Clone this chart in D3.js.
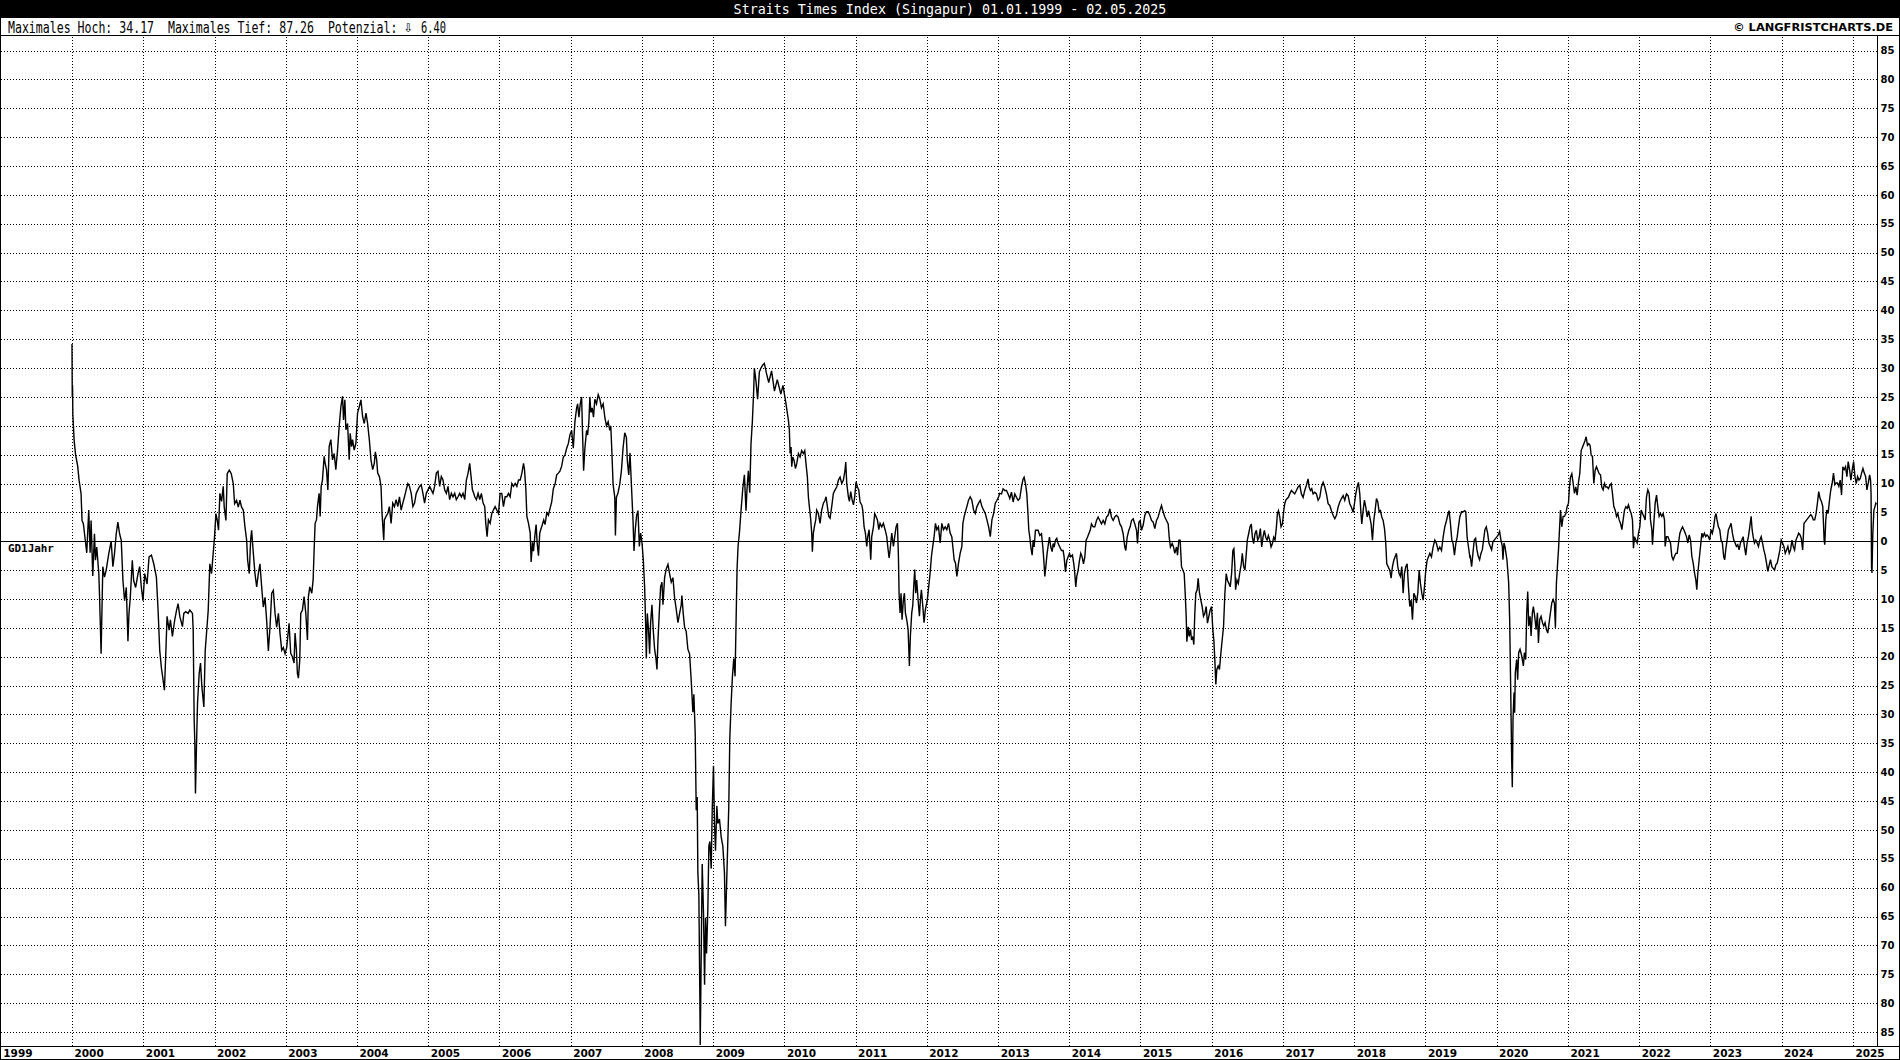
<!DOCTYPE html>
<html><head><meta charset="utf-8">
<script src="https://cdn.jsdelivr.net/npm/d3@7"></script>
<style>html,body{margin:0;padding:0;background:#fff;overflow:hidden}</style>
</head><body><svg id="c" width="1900" height="1060"></svg>
<script>
const titleText = "Straits Times Index (Singapur) 01.01.1999 - 02.05.2025";
const statsLead = "Maximales Hoch: 34.17  Maximales Tief: 87.26  Potenzial:";
const statsArrow = "\u21E9";
const statsValue = "6.40";
const copyText = "\u00A9 LANGFRISTCHARTS.DE";
const refLabel = "GD1Jahr";
const yTicks = d3.range(-85, 90, 5);
const yearTicks = d3.range(1999, 2026);

// [decimal year, % distance to 1-year moving average]
const seg2000_2002 = [[2000.0,34.17],[2000.004,25],[2000.008,27],[2000.012,22],[2000.03,17.5],[2000.05,15],[2000.08,13],[2000.10,10.5],[2000.127,8.3],[2000.141,3.6],[2000.16,3],[2000.188,0],[2000.207,-2],[2000.235,5.4],[2000.254,-2],[2000.268,3.6],[2000.291,-6],[2000.315,1.3],[2000.329,-3.3],[2000.347,-1],[2000.376,-5.6],[2000.385,-9],[2000.408,-19.5],[2000.432,-4.4],[2000.455,-6.2],[2000.479,-5],[2000.516,-2.1],[2000.549,0],[2000.573,-4.4],[2000.596,-2.1],[2000.62,1.3],[2000.643,3.3],[2000.667,1.3],[2000.69,0.2],[2000.714,-6.8],[2000.737,-10.3],[2000.761,-8],[2000.784,-17.3],[2000.798,-12.6],[2000.817,-9.7],[2000.845,-3.3],[2000.864,-6.8],[2000.892,-8],[2000.925,-5.6],[2000.948,-4.4],[2000.972,-8],[2000.995,-10.3],[2001.019,-5.6],[2001.052,-7.4],[2001.08,-2.7],[2001.113,-2.4],[2001.146,-3.9],[2001.183,-6.2],[2001.207,-12],[2001.23,-18.9],[2001.254,-22],[2001.277,-24],[2001.296,-25.8],[2001.315,-19.5],[2001.333,-13],[2001.362,-15.4],[2001.38,-13.6],[2001.408,-16.5],[2001.441,-13.6],[2001.465,-12],[2001.488,-10.8],[2001.512,-13],[2001.549,-14.8],[2001.568,-12.5],[2001.596,-12.2],[2001.629,-12.5],[2001.653,-11.9],[2001.69,-12.5],[2001.70,-15.4],[2001.714,-31],[2001.723,-35],[2001.732,-43.7],[2001.746,-35.6],[2001.761,-28],[2001.784,-22.9],[2001.803,-21.1],[2001.822,-25.2],[2001.85,-28.7],[2001.869,-18.9],[2001.887,-16],[2001.911,-12],[2001.934,-3.9],[2001.958,-5.6],[2001.981,-2.1],[2002.0,0.75],[2002.019,4.8],[2002.038,3.6],[2002.056,1.9],[2002.075,8.3],[2002.099,6.9],[2002.122,9.5],[2002.136,5.9],[2002.16,3.6],[2002.178,11.7],[2002.207,12.3],[2002.235,11.7],[2002.263,10],[2002.282,6.5],[2002.31,7.1],[2002.333,5.9],[2002.357,7.1],[2002.38,5.9],[2002.404,5.4],[2002.427,2.5],[2002.451,0.2],[2002.465,-3.3],[2002.488,-5.6],[2002.507,0.2],[2002.521,1.9],[2002.545,-2.1],[2002.568,-5.6],[2002.592,-7.9],[2002.615,-5.6],[2002.638,-3.9],[2002.662,-7.9],[2002.685,-11.4],[2002.709,-9.7],[2002.732,-13.7],[2002.756,-19],[2002.779,-14.9],[2002.803,-9],[2002.826,-8.5],[2002.85,-12.5],[2002.873,-14.9],[2002.897,-12.5],[2002.92,-16],[2002.944,-18.9],[2002.967,-18.4],[2002.991,-19.5],[2003.014,-18.4]];

const seg2003_2006 = [[2003.047,-14.2],[2003.07,-19.4],[2003.094,-20],[2003.117,-21.1],[2003.131,-15.9],[2003.15,-18.8],[2003.164,-22.9],[2003.178,-23.7],[2003.197,-20.6],[2003.211,-12.5],[2003.235,-11.9],[2003.258,-9.6],[2003.282,-12.5],[2003.305,-17.1],[2003.319,-9.6],[2003.338,-7.9],[2003.366,-9],[2003.385,-6.7],[2003.399,-1.5],[2003.413,3.1],[2003.432,3.7],[2003.446,6],[2003.469,8.3],[2003.484,4.3],[2003.498,9.5],[2003.516,10.6],[2003.54,14.7],[2003.554,13.5],[2003.573,12.4],[2003.592,8.9],[2003.61,16.4],[2003.634,17.6],[2003.657,14.1],[2003.681,15.2],[2003.704,12.4],[2003.728,15.8],[2003.751,19.9],[2003.775,23.3],[2003.798,25.1],[2003.812,21],[2003.831,24.5],[2003.845,19.3],[2003.869,20.4],[2003.892,14.1],[2003.906,18.7],[2003.925,16.4],[2003.939,17.6],[2003.962,15.8],[2003.986,17],[2004.009,22.2],[2004.033,23.3],[2004.056,24.5],[2004.08,21.6],[2004.103,20.4],[2004.127,22.2],[2004.15,20.4],[2004.174,17.6],[2004.197,14.1],[2004.221,12.4],[2004.244,13.5],[2004.258,15.5],[2004.277,14.1],[2004.291,11.8],[2004.315,11.2],[2004.338,9.5],[2004.352,4.8],[2004.376,0.2],[2004.385,3.7],[2004.408,4.3],[2004.432,4.8],[2004.455,6],[2004.479,3.1],[2004.502,6.6],[2004.526,6],[2004.549,7.2],[2004.573,6],[2004.596,7.7],[2004.62,5.4],[2004.643,6.6],[2004.667,7.7],[2004.69,8.9],[2004.714,10],[2004.737,9.5],[2004.761,8.3],[2004.784,6],[2004.808,6.6],[2004.831,8.3],[2004.854,8.9],[2004.878,9.5],[2004.901,9.8],[2004.925,8.3],[2004.948,6.6],[2004.972,8.3],[2004.995,8.9],[2005.019,9.5],[2005.042,8.9],[2005.066,8.3],[2005.089,9.5],[2005.113,11.8],[2005.136,12.1],[2005.16,9.5],[2005.183,11.2],[2005.207,10.6],[2005.23,8.9],[2005.254,8.3],[2005.277,9.5],[2005.3,7.2],[2005.324,8.3],[2005.347,7.7],[2005.371,8.3],[2005.394,7.2],[2005.418,7.7],[2005.441,8.3],[2005.465,7.7],[2005.488,8.3],[2005.512,7.2],[2005.535,10.6],[2005.559,11.8],[2005.582,13.5],[2005.596,11.8],[2005.62,8.9],[2005.638,8.3],[2005.653,7.7],[2005.676,7.2],[2005.70,8.3],[2005.723,7.2],[2005.746,8.3],[2005.77,6.6],[2005.793,6],[2005.808,3.1],[2005.826,0.8],[2005.845,3.7],[2005.869,3.1],[2005.892,4.8],[2005.915,5.4],[2005.939,6],[2005.962,5.4],[2005.986,4.8],[2006.009,8.3],[2006.033,8.3],[2006.056,6],[2006.08,7.7],[2006.103,7.7],[2006.127,8.3],[2006.15,7.7],[2006.174,10],[2006.197,9.5],[2006.221,10],[2006.244,9.5],[2006.268,10.6],[2006.291,10.6],[2006.315,11.8],[2006.338,13.5],[2006.352,12.4],[2006.371,8.9],[2006.385,4.3],[2006.408,3.1],[2006.432,1.4]];

const seg2006_2009 = [[2006.445,-3.6],[2006.464,-0.2],[2006.478,-1.7],[2006.501,1.4],[2006.515,2.9],[2006.529,-0.2],[2006.548,-2.5],[2006.566,1.4],[2006.585,2.2],[2006.603,2.9],[2006.622,3.7],[2006.641,2.9],[2006.664,4.9],[2006.687,4.5],[2006.711,5.7],[2006.734,6.8],[2006.757,9.1],[2006.781,9.9],[2006.804,11.5],[2006.827,11.8],[2006.851,12.2],[2006.874,13],[2006.897,14.6],[2006.92,14.9],[2006.944,16.1],[2006.967,16.9],[2006.99,18.4],[2007.014,19.2],[2007.037,16.1],[2007.06,20.7],[2007.084,23.1],[2007.098,23.8],[2007.116,21.5],[2007.135,23.8],[2007.154,25],[2007.168,18.4],[2007.182,12.2],[2007.20,16.1],[2007.224,19.2],[2007.238,18.4],[2007.256,20.7],[2007.27,25],[2007.284,22.3],[2007.303,23.1],[2007.321,21.5],[2007.34,24.6],[2007.363,23.8],[2007.387,25.4],[2007.41,24.6],[2007.433,23.1],[2007.457,23.8],[2007.48,21.5],[2007.503,20],[2007.527,20.7],[2007.55,19.2],[2007.564,20],[2007.582,14.6],[2007.596,9.9],[2007.62,7.6],[2007.629,1],[2007.643,7.6],[2007.666,8.4],[2007.69,9.9],[2007.713,12.2],[2007.736,16.1],[2007.76,18.8],[2007.783,18],[2007.797,13.8],[2007.816,11.5],[2007.834,15.3],[2007.853,9.9],[2007.876,3.7],[2007.89,-1.7],[2007.909,2.2],[2007.927,4.5],[2007.946,5.3],[2007.965,-0.9],[2007.983,1.4],[2008.002,-0.2],[2008.021,-3.3],[2008.039,-7.9],[2008.053,-14.1],[2008.063,-20.3],[2008.077,-12.5],[2008.095,-15.6],[2008.109,-19.5],[2008.123,-14.1],[2008.142,-11],[2008.161,-15.6],[2008.179,-18.7],[2008.198,-20.3],[2008.212,-22.2],[2008.226,-17.2],[2008.244,-12.5],[2008.263,-7.9],[2008.282,-7.1],[2008.296,-11],[2008.319,-6.3],[2008.342,-4.8],[2008.366,-4],[2008.389,-5.6],[2008.412,-7.1],[2008.436,-6.3],[2008.459,-9.8],[2008.482,-11.8],[2008.506,-14.1],[2008.529,-12.5],[2008.552,-11],[2008.561,-9.4],[2008.58,-12.5],[2008.599,-14.9],[2008.622,-15.6],[2008.645,-18.7],[2008.669,-19.5],[2008.692,-24.1],[2008.715,-29.6],[2008.729,-26.5],[2008.748,-33.4],[2008.762,-46.6],[2008.776,-44.3],[2008.785,-57.4],[2008.799,-61.3],[2008.813,-79.1],[2008.818,-87.26],[2008.832,-71.4],[2008.846,-55.9],[2008.864,-64.4],[2008.879,-76.8],[2008.893,-65.2],[2008.907,-71.4],[2008.925,-63.6],[2008.939,-52.8],[2008.953,-52],[2008.972,-56.7],[2008.986,-46.6],[2009.004,-38.9],[2009.018,-48.9],[2009.032,-53.6],[2009.051,-45.8],[2009.065,-48.9],[2009.088,-48.1],[2009.112,-51.2],[2009.135,-52.8],[2009.158,-57.4],[2009.172,-66.7],[2009.186,-60.5],[2009.205,-52],[2009.219,-45.8],[2009.233,-34.2],[2009.252,-28],[2009.27,-23.4],[2009.289,-20.3],[2009.307,-23.4],[2009.321,-14.1],[2009.335,-4.8],[2009.349,-0.9],[2009.368,1.4],[2009.391,5.3],[2009.415,9.1],[2009.438,11.5],[2009.461,5.3],[2009.475,9.1],[2009.494,12.2],[2009.513,8.4],[2009.531,16.9],[2009.55,20.7],[2009.569,26.2],[2009.578,30],[2009.601,27.7],[2009.624,24.6],[2009.648,29.3],[2009.671,30],[2009.694,30.5],[2009.718,30.8],[2009.75,29],[2009.78,27.5],[2009.82,29.5],[2009.86,26],[2009.90,28],[2009.95,25.5],[2009.98,27],[2010.02,24]];

const seg2010_2012 = [[2010.056,21],[2010.07,19.2],[2010.08,15.2],[2010.094,16.3],[2010.103,12.9],[2010.117,14.6],[2010.136,14],[2010.155,12.6],[2010.173,13.4],[2010.197,15.2],[2010.22,14.6],[2010.243,15.7],[2010.267,15.2],[2010.286,15.7],[2010.304,13.4],[2010.323,11.1],[2010.337,7.7],[2010.351,6],[2010.37,3.7],[2010.384,1.4],[2010.393,-1.8],[2010.407,1.4],[2010.421,2.5],[2010.44,3.7],[2010.454,5.4],[2010.477,4.8],[2010.501,3.1],[2010.524,5.4],[2010.548,6.6],[2010.571,7.1],[2010.585,7.7],[2010.604,6],[2010.623,4.3],[2010.642,4],[2010.665,6],[2010.688,8.3],[2010.712,8.9],[2010.735,9.4],[2010.759,10.6],[2010.782,11.1],[2010.806,10],[2010.829,10.6],[2010.852,12.3],[2010.862,13.7],[2010.876,10],[2010.899,7.7],[2010.913,6.9],[2010.932,8.6],[2010.951,7.2],[2010.97,6.3],[2010.988,7.7],[2011.007,10.3],[2011.026,9.4],[2011.045,8.9],[2011.063,6.8],[2011.087,6.3],[2011.101,5.4],[2011.12,2.5],[2011.138,1.4],[2011.157,-0.9],[2011.171,0.8],[2011.19,2],[2011.213,-3.2],[2011.227,0.8],[2011.251,2.5],[2011.269,4.8],[2011.288,4.3],[2011.307,3.7],[2011.326,2],[2011.344,3.1],[2011.368,2.5],[2011.391,3.1],[2011.415,2],[2011.438,0.8],[2011.452,-0.9],[2011.471,-2.9],[2011.485,-1.5],[2011.508,1.4],[2011.532,-0.9],[2011.55,0.8],[2011.569,2.5],[2011.588,3.1],[2011.602,-2.6],[2011.611,-9],[2011.625,-12.4],[2011.639,-9],[2011.653,-13.6],[2011.672,-10.1],[2011.686,-9],[2011.70,-12.4],[2011.719,-13.6],[2011.738,-15.3],[2011.756,-21.6],[2011.77,-16.4],[2011.789,-12.4],[2011.803,-11.2],[2011.817,-7.8],[2011.831,-4.9],[2011.845,-9],[2011.859,-6.7],[2011.878,-10.1],[2011.897,-13],[2011.911,-10.1],[2011.925,-8.4],[2011.944,-11.2],[2011.962,-14.1],[2011.981,-11.8],[2012.0,-10.7],[2012.014,-9.5],[2012.028,-7.8],[2012.047,-5.5],[2012.066,-2.6],[2012.084,-0.9],[2012.103,0.8],[2012.122,3.1],[2012.141,2],[2012.164,2.5],[2012.188,-0.3],[2012.211,3.1],[2012.234,2],[2012.258,2.5],[2012.281,2],[2012.305,3.1],[2012.328,1.4],[2012.351,0.8],[2012.365,-0.9],[2012.384,-3.2],[2012.403,-3.8],[2012.422,-6.1],[2012.445,-3.8],[2012.468,-2.1],[2012.492,-0.9],[2012.506,3.1],[2012.525,4.3],[2012.548,5.4],[2012.562,6],[2012.585,7.1],[2012.609,7.7],[2012.632,7.1],[2012.656,5.4],[2012.679,4.8],[2012.703,6],[2012.726,6.6],[2012.75,7.1],[2012.773,6],[2012.796,5.4],[2012.82,4.8],[2012.843,3.7],[2012.867,2.5],[2012.89,0.8],[2012.913,3.7],[2012.937,4.8],[2012.96,6.6],[2012.984,7.1],[2013.007,7.7],[2013.021,8.3]];

const seg2013_2016 = [[2013.047,8.2],[2013.07,9.1],[2013.094,8.8],[2013.117,8.8],[2013.14,8.2],[2013.164,7.4],[2013.187,8.5],[2013.211,6.8],[2013.234,8.2],[2013.258,7.6],[2013.281,7.1],[2013.304,7.4],[2013.328,9.4],[2013.351,10.8],[2013.365,11.1],[2013.384,10],[2013.403,8.2],[2013.417,5.3],[2013.431,1.9],[2013.445,0.7],[2013.459,-1],[2013.478,-2.4],[2013.492,0.2],[2013.506,-1],[2013.524,1.9],[2013.543,1.9],[2013.562,1.9],[2013.585,1],[2013.609,1.3],[2013.628,-1],[2013.642,-3.3],[2013.656,-6.1],[2013.67,-4.4],[2013.688,-2.1],[2013.707,-0.4],[2013.721,0.7],[2013.74,-1],[2013.759,-1.8],[2013.773,-0.4],[2013.787,-1],[2013.806,0.2],[2013.824,0.5],[2013.843,-0.4],[2013.866,-1],[2013.89,-1.6],[2013.913,-1.6],[2013.927,-2.7],[2013.946,-5.3],[2013.965,-3.3],[2013.984,-2.7],[2014.002,-2.1],[2014.021,-2.7],[2014.044,-2.4],[2014.063,-3.9],[2014.077,-5.6],[2014.091,-7.9],[2014.105,-6.1],[2014.124,-5],[2014.143,-3.3],[2014.161,-2.1],[2014.18,-2.7],[2014.199,-3.9],[2014.218,-2.7],[2014.236,0.2],[2014.255,0.7],[2014.274,1.3],[2014.293,1.9],[2014.311,3],[2014.335,2.5],[2014.358,2.5],[2014.382,3.6],[2014.405,4.2],[2014.429,3.6],[2014.452,3],[2014.475,3.6],[2014.499,3],[2014.522,4.2],[2014.546,4.5],[2014.569,5.6],[2014.592,4.2],[2014.616,3.6],[2014.639,4.2],[2014.663,4.5],[2014.686,4.2],[2014.71,3],[2014.733,2.5],[2014.756,1.3],[2014.78,-1],[2014.794,-1.6],[2014.813,0.7],[2014.836,1.9],[2014.855,2.5],[2014.874,3.6],[2014.897,3.9],[2014.92,3],[2014.944,1.9],[2014.958,-0.4],[2014.977,3.3],[2014.995,3.6],[2015.014,1.9],[2015.038,2.8],[2015.061,4.5],[2015.084,5.1],[2015.108,5.1],[2015.131,4.5],[2015.155,3.6],[2015.178,3.3],[2015.201,2.2],[2015.225,3.6],[2015.248,4.2],[2015.272,5.3],[2015.295,6.2],[2015.318,5.1],[2015.342,4.2],[2015.365,3.6],[2015.389,3],[2015.403,0.7],[2015.421,-1],[2015.445,-0.4],[2015.464,-1],[2015.482,-2.1],[2015.506,-1],[2015.52,-2.4],[2015.539,0.2],[2015.557,0.2],[2015.576,-4.4],[2015.595,-5],[2015.614,-5.6],[2015.628,-9],[2015.642,-13],[2015.651,-17.4],[2015.67,-14.8],[2015.684,-16.5],[2015.703,-15.3],[2015.717,-17.1],[2015.735,-16.5],[2015.749,-17.9],[2015.763,-12.5],[2015.777,-9],[2015.796,-8.4],[2015.81,-6.4],[2015.829,-9],[2015.848,-10.2],[2015.866,-11.3],[2015.885,-13],[2015.904,-12.5],[2015.923,-11.3],[2015.941,-14.2],[2015.96,-13],[2015.979,-11.9],[2015.998,-11.3],[2016.016,-15.3],[2016.03,-17.1],[2016.044,-20.5],[2016.058,-24.8],[2016.072,-22.2],[2016.091,-21.6],[2016.109,-22.2],[2016.129,-19.4],[2016.147,-17.1],[2016.166,-14.8],[2016.185,-9],[2016.204,-5.6],[2016.222,-6.8],[2016.241,-7.3],[2016.26,-7.9],[2016.279,-5.6],[2016.297,-1.6],[2016.311,-1.3],[2016.325,-4.4]];

const seg2016_2019 = [[2016.335,-8.4],[2016.354,-6.7],[2016.373,-7.3],[2016.392,-5.6],[2016.415,-3.9],[2016.429,-2.1],[2016.448,-4.4],[2016.466,-5],[2016.485,-2.1],[2016.499,0.2],[2016.518,1.3],[2016.537,2.5],[2016.555,3],[2016.57,0.7],[2016.588,-0.4],[2016.607,1.3],[2016.626,1.9],[2016.644,0.2],[2016.663,0.7],[2016.682,2.2],[2016.701,-1],[2016.719,0.7],[2016.738,1.9],[2016.757,0.7],[2016.776,0.2],[2016.794,1],[2016.813,0.2],[2016.832,-1],[2016.851,-0.4],[2016.869,0.7],[2016.888,0.2],[2016.907,2.5],[2016.921,4.8],[2016.935,5.3],[2016.954,4.2],[2016.972,2.5],[2016.991,3],[2017.01,5.3],[2017.024,6.5],[2017.038,7.1],[2017.057,7.4],[2017.075,7.6],[2017.094,8.2],[2017.118,8.8],[2017.141,8.5],[2017.164,8.2],[2017.188,8.8],[2017.211,9.4],[2017.235,9.7],[2017.258,8.2],[2017.282,7.6],[2017.305,8.8],[2017.328,9.7],[2017.352,10.8],[2017.366,9.4],[2017.385,8.8],[2017.403,9.1],[2017.422,8.2],[2017.445,8.5],[2017.469,8.2],[2017.492,7.1],[2017.516,7.6],[2017.539,9.4],[2017.563,10.2],[2017.586,9.4],[2017.609,8.2],[2017.633,6.5],[2017.656,6.2],[2017.68,5.3],[2017.703,4.5],[2017.727,3.9],[2017.75,4.5],[2017.773,5.9],[2017.797,6.8],[2017.82,7.4],[2017.844,7.9],[2017.867,7.1],[2017.89,8.2],[2017.914,7.9],[2017.937,6.5],[2017.961,5.9],[2017.984,5],[2018.003,6.5],[2018.022,8.2],[2018.04,9.4],[2018.059,10.2],[2018.078,8.2],[2018.092,5.3],[2018.106,3],[2018.125,5.3],[2018.143,7.1],[2018.162,5.9],[2018.181,4.2],[2018.20,5.3],[2018.218,4.2],[2018.237,3],[2018.256,0.2],[2018.275,3.6],[2018.293,5.3],[2018.312,7.4],[2018.331,6.8],[2018.35,5.1],[2018.368,5.3],[2018.387,4.2],[2018.406,3.6],[2018.425,2.2],[2018.443,-0.4],[2018.457,-3.9],[2018.476,-4.4],[2018.499,-5],[2018.518,-6.4],[2018.537,-4.4],[2018.556,-3.3],[2018.574,-2.7],[2018.593,-2.1],[2018.612,-4.4],[2018.63,-5.6],[2018.649,-6.1],[2018.668,-4.4],[2018.687,-9],[2018.705,-5.6],[2018.724,-4.4],[2018.743,-3.9],[2018.762,-7.9],[2018.78,-11.3],[2018.799,-10.2],[2018.818,-13.6],[2018.837,-9],[2018.855,-9.5],[2018.874,-10.7],[2018.893,-9],[2018.912,-5],[2018.93,-7.3],[2018.949,-9],[2018.968,-10.2],[2018.987,-7.9],[2019.005,-5],[2019.024,-3.3],[2019.043,-2.7],[2019.062,-2.1],[2019.085,-2.7],[2019.108,-1],[2019.132,0.2],[2019.155,-0.4],[2019.179,-1.6],[2019.202,-1],[2019.226,-1.6],[2019.249,0.7],[2019.272,2.5],[2019.296,3.6],[2019.319,4.8],[2019.333,5.3],[2019.352,3],[2019.371,0.2],[2019.389,-0.4],[2019.408,-2.4],[2019.427,-0.4],[2019.446,0.7],[2019.464,2.5],[2019.483,4.2],[2019.507,5.1],[2019.53,5.1],[2019.553,5.3],[2019.567,5.1],[2019.586,0.7],[2019.605,-1],[2019.624,-2.7]];

const seg2019_2022 = [[2019.63,-2.6],[2019.649,-4.4],[2019.667,-2.1],[2019.686,0.2],[2019.705,0.5],[2019.724,-1.5],[2019.742,-2.6],[2019.761,-3.2],[2019.78,-2.1],[2019.799,-1.5],[2019.817,0.2],[2019.836,2],[2019.855,2.5],[2019.874,1.4],[2019.892,-0.3],[2019.911,-0.9],[2019.93,-1.5],[2019.948,-0.1],[2019.967,0.2],[2019.986,0.5],[2020.005,0.8],[2020.023,1.1],[2020.042,1.7],[2020.061,0.2],[2020.08,-0.9],[2020.089,-3.2],[2020.103,-0.3],[2020.117,-0.9],[2020.131,-2.1],[2020.145,-3.2],[2020.155,-4.9],[2020.169,-7.2],[2020.183,-13.6],[2020.197,-25.1],[2020.211,-37.7],[2020.22,-42.6],[2020.23,-30.8],[2020.244,-26.2],[2020.253,-29.7],[2020.262,-22.8],[2020.281,-20.5],[2020.295,-24],[2020.309,-19.3],[2020.328,-18.7],[2020.351,-19.8],[2020.375,-21.6],[2020.389,-19.3],[2020.408,-20.5],[2020.422,-12.4],[2020.436,-8.7],[2020.45,-14.7],[2020.469,-13],[2020.483,-16.4],[2020.501,-12.4],[2020.515,-11.3],[2020.534,-13],[2020.553,-15.3],[2020.572,-12.4],[2020.586,-17.6],[2020.604,-13.6],[2020.623,-13],[2020.642,-14.1],[2020.661,-14.7],[2020.679,-14.1],[2020.698,-15.3],[2020.717,-15.9],[2020.736,-14.1],[2020.754,-12.4],[2020.773,-10.7],[2020.792,-10.1],[2020.81,-10.7],[2020.824,-15],[2020.838,-7.2],[2020.852,-4.4],[2020.867,-1.5],[2020.881,2],[2020.895,5.4],[2020.913,2.5],[2020.932,4.3],[2020.951,4.3],[2020.97,4.8],[2020.988,6],[2021.007,6.6],[2021.021,9.4],[2021.035,11.1],[2021.054,11.7],[2021.073,10],[2021.091,8.3],[2021.11,9.4],[2021.129,8],[2021.148,10.3],[2021.166,11.7],[2021.185,15.7],[2021.204,16.3],[2021.223,16.9],[2021.241,17.5],[2021.255,18.1],[2021.274,16.6],[2021.293,16.9],[2021.311,16.6],[2021.326,14.9],[2021.344,14.7],[2021.363,10],[2021.382,12.3],[2021.40,12.9],[2021.419,12.3],[2021.438,11.7],[2021.457,11.5],[2021.475,9.4],[2021.494,8.9],[2021.513,10],[2021.532,9.4],[2021.55,9.4],[2021.569,9.1],[2021.588,9.7],[2021.607,10],[2021.625,8.3],[2021.644,6],[2021.663,5.4],[2021.682,4.3],[2021.70,4.8],[2021.719,3.7],[2021.738,3.1],[2021.757,2],[2021.775,3.7],[2021.794,5.4],[2021.813,6],[2021.831,5.7],[2021.85,6.3],[2021.869,5.4],[2021.888,4.8],[2021.906,3.7],[2021.92,-1.2],[2021.934,0.8],[2021.953,0.2],[2021.972,-0.3],[2021.991,1.4],[2022.009,2.5],[2022.028,5.4],[2022.047,4.8],[2022.066,4.3],[2022.084,3.7],[2022.103,7.7],[2022.122,8.9],[2022.141,8.3],[2022.159,3.7],[2022.178,2],[2022.187,-0.6],[2022.206,3.1],[2022.225,6.6],[2022.244,8],[2022.262,6],[2022.281,4.3],[2022.30,4.8],[2022.319,4.3],[2022.337,4.8],[2022.356,3.7],[2022.365,-0.9],[2022.384,0.8],[2022.403,0.8],[2022.422,0.2],[2022.44,-0.3],[2022.459,-2.6],[2022.478,-3.2],[2022.497,-2.6],[2022.515,-2.1],[2022.534,-2.1],[2022.553,-0.3],[2022.572,1.4],[2022.59,2],[2022.609,2.5],[2022.628,2],[2022.647,1.4],[2022.665,0.8],[2022.684,-0.3],[2022.703,1.1],[2022.722,0.2],[2022.74,-2.6],[2022.759,-3.8],[2022.778,-5.5],[2022.796,-6.7],[2022.81,-8.4],[2022.824,-5.5],[2022.843,-3.2],[2022.862,-0.9],[2022.881,1.4]];

const seg2023_2025 = [[2022.897,0.8],[2022.916,1.4],[2022.935,0.8],[2022.953,1.1],[2022.972,0.8],[2022.991,0.2],[2023.01,2],[2023.028,1.4],[2023.047,2.5],[2023.066,4.3],[2023.08,4.8],[2023.094,3.7],[2023.113,2.5],[2023.132,2],[2023.15,0.2],[2023.169,-0.3],[2023.188,-2.7],[2023.202,-3.2],[2023.216,-1.5],[2023.235,0.2],[2023.254,2],[2023.273,2.5],[2023.291,3.1],[2023.31,1.4],[2023.329,0.2],[2023.348,-0.3],[2023.366,-0.9],[2023.385,-0.6],[2023.404,-1.5],[2023.423,-0.3],[2023.442,0.2],[2023.46,0.8],[2023.479,-0.9],[2023.498,-2.4],[2023.517,-0.3],[2023.535,0.8],[2023.554,2.5],[2023.573,4.3],[2023.587,2],[2023.601,0.8],[2023.62,-0.3],[2023.639,0.2],[2023.657,-0.3],[2023.676,-0.9],[2023.695,0.2],[2023.714,0.8],[2023.733,-0.3],[2023.751,-1.5],[2023.77,-2.4],[2023.789,-3.8],[2023.808,-5.2],[2023.827,-4.1],[2023.845,-3.2],[2023.864,-4.4],[2023.883,-4.7],[2023.902,-5],[2023.92,-4.1],[2023.939,-3.8],[2023.958,-2.7],[2023.977,-1.5],[2023.996,0.2],[2024.014,-0.3],[2024.033,-0.9],[2024.052,-2.1],[2024.071,-1.5],[2024.089,-0.9],[2024.108,-2.1],[2024.127,-1.5],[2024.146,0.2],[2024.164,-0.9],[2024.183,-1.5],[2024.202,0.2],[2024.221,0.8],[2024.24,1.4],[2024.259,1.1],[2024.277,0.5],[2024.296,-1.5],[2024.315,3.1],[2024.334,3.4],[2024.352,3.7],[2024.371,4],[2024.39,4.3],[2024.409,4.6],[2024.428,4.3],[2024.446,3.7],[2024.465,3.7],[2024.484,4.8],[2024.503,6.6],[2024.521,8.6],[2024.54,7.4],[2024.559,6.9],[2024.578,6],[2024.597,0.2],[2024.606,-0.6],[2024.62,3.7],[2024.634,5.4],[2024.653,4.8],[2024.672,7.1],[2024.69,8.9],[2024.709,10],[2024.728,11.8],[2024.747,9.8],[2024.766,10.1],[2024.784,10.1],[2024.803,9.5],[2024.822,10.6],[2024.841,8],[2024.859,12.9],[2024.878,12.4],[2024.897,12.9],[2024.916,11.2],[2024.934,13.8],[2024.953,12.4],[2024.972,10.6],[2024.991,12.4],[2025.01,13.8],[2025.029,11.2],[2025.047,10],[2025.066,11.2],[2025.085,10.6],[2025.104,10.9],[2025.122,11.8],[2025.141,12.6],[2025.16,11.8],[2025.179,11.2],[2025.197,8.9],[2025.216,10.1],[2025.235,11.5],[2025.248,10.6],[2025.255,8.3],[2025.262,-4.4],[2025.268,-5.5],[2025.28,1.4],[2025.295,5.4],[2025.31,6],[2025.322,6.6],[2025.333,6.4]];

const series = [].concat(seg2000_2002, seg2003_2006, seg2006_2009, seg2010_2012, seg2013_2016, seg2016_2019, seg2019_2022, seg2023_2025);

function toDate(dy){
  const Y = Math.floor(dy);
  const s = new Date(Y,0,1).getTime(), e = new Date(Y+1,0,1).getTime();
  return new Date(s + (dy - Y) * (e - s));
}

const svg = d3.select("#c");
const W = 1900, H = 1060;
const plotRight = 1877.5, plotTop = 35.5, plotBottom = 1046.5;

const x = d3.scaleTime().domain([new Date(1999,0,1), new Date(2025,4,2)]).range([0.8, 1876.5]);
const y = d3.scaleLinear().domain([-85, 85]).range([1032, 50.5]);
const snap = v => Math.round(v) + 0.5;

// text squeezed horizontally to a target width (real geometry, no textLength)
function fitText(parent, str, px, py, width, opts) {
  const t = parent.append("text")
    .attr("font-family", opts.family).attr("font-size", opts.size)
    .attr("font-weight", opts.weight || "normal")
    .attr("fill", opts.fill || "#000")
    .attr("text-anchor", opts.anchor || "start")
    .style("white-space", "pre")
    .text(str);
  const w = t.node().getComputedTextLength();
  const sx = w > 0 ? width / w : 1;
  t.attr("transform", `translate(${px},${py}) scale(${sx},1)`);
  return t;
}

svg.append("rect").attr("width", W).attr("height", H).attr("fill", "#fff");

// title bar
svg.append("rect").attr("x",0).attr("y",0).attr("width",W).attr("height",18).attr("fill","#000");
fitText(svg, titleText, 950, 14, 433, {family:"DejaVu Sans Mono", size:14, fill:"#fff", anchor:"middle"});

// stats line
fitText(svg, statsLead, 8, 32.5, 390, {family:"DejaVu Sans Mono", size:15});
svg.append("text").attr("x", 408.5).attr("y", 32).attr("text-anchor","middle")
  .attr("fill","#000").attr("font-family","DejaVu Sans").attr("font-size",12)
  .text(statsArrow);
fitText(svg, statsValue, 421, 32.5, 25, {family:"DejaVu Sans Mono", size:15});

fitText(svg, copyText, 1893, 31, 160, {family:"DejaVu Sans", size:10.5, weight:"bold", anchor:"end"});

// grid
const grid = svg.append("g").attr("shape-rendering","crispEdges");
grid.selectAll("line.h").data(yTicks.filter(v => v !== 0)).join("line")
  .attr("x1", 1).attr("x2", plotRight)
  .attr("y1", d => snap(y(d))).attr("y2", d => snap(y(d)))
  .attr("stroke","#000").attr("stroke-width",1).attr("stroke-dasharray","1,2");
grid.selectAll("line.v").data(yearTicks.slice(1)).join("line")
  .attr("x1", d => snap(x(new Date(d,0,1)))).attr("x2", d => snap(x(new Date(d,0,1))))
  .attr("y1", plotTop + 1).attr("y2", plotBottom)
  .attr("stroke","#000").attr("stroke-width",1).attr("stroke-dasharray","1,2");

// zero (GD1Jahr) line
svg.append("line").attr("x1",0).attr("x2",plotRight).attr("y1",snap(y(0))).attr("y2",snap(y(0)))
  .attr("stroke","#000").attr("stroke-width",1).attr("shape-rendering","crispEdges");
fitText(svg, refLabel, 8, snap(y(0)) + 10, 46, {family:"DejaVu Sans Mono", size:10, weight:"bold"});

// data line
const line = d3.line().x(d => x(toDate(d[0]))).y(d => y(d[1]));
svg.append("path").datum(series).attr("d", line)
  .attr("fill","none").attr("stroke","#000").attr("stroke-width",1.4).attr("stroke-linejoin","miter");

// axes
const yAxis = d3.axisRight(y).tickValues(yTicks).tickFormat(d => Math.abs(d)).tickSize(0).tickPadding(3);
const gy = svg.append("g").attr("transform", `translate(${plotRight},0)`).call(yAxis);
gy.select(".domain").remove();
gy.selectAll("text").attr("font-family","DejaVu Sans").attr("font-weight","bold").attr("font-size",10).attr("fill","#000");

const xAxis = d3.axisBottom(x).tickValues(yearTicks.map(v => new Date(v,0,1)))
  .tickFormat(d3.timeFormat("%Y")).tickSize(0).tickPadding(0);
const gx = svg.append("g").attr("transform", `translate(0,${plotBottom})`).call(xAxis);
gx.select(".domain").remove();
gx.selectAll("text").attr("text-anchor","start").attr("dx", 2).attr("dy", 0).attr("y", 10)
  .attr("font-family","DejaVu Sans").attr("font-weight","bold").attr("font-size",10.5).attr("fill","#000");

// frame
const frame = svg.append("g").attr("stroke","#000").attr("stroke-width",1).attr("shape-rendering","crispEdges");
frame.append("line").attr("x1",0).attr("x2",W).attr("y1",plotTop).attr("y2",plotTop);
frame.append("line").attr("x1",0).attr("x2",W).attr("y1",plotBottom).attr("y2",plotBottom);
frame.append("line").attr("x1",0).attr("x2",W).attr("y1",H-0.5).attr("y2",H-0.5);
frame.append("line").attr("x1",0.5).attr("x2",0.5).attr("y1",18).attr("y2",H);
frame.append("line").attr("x1",W-0.5).attr("x2",W-0.5).attr("y1",18).attr("y2",H);
frame.append("line").attr("x1",plotRight).attr("x2",plotRight).attr("y1",plotTop).attr("y2",plotBottom);
</script></body></html>
